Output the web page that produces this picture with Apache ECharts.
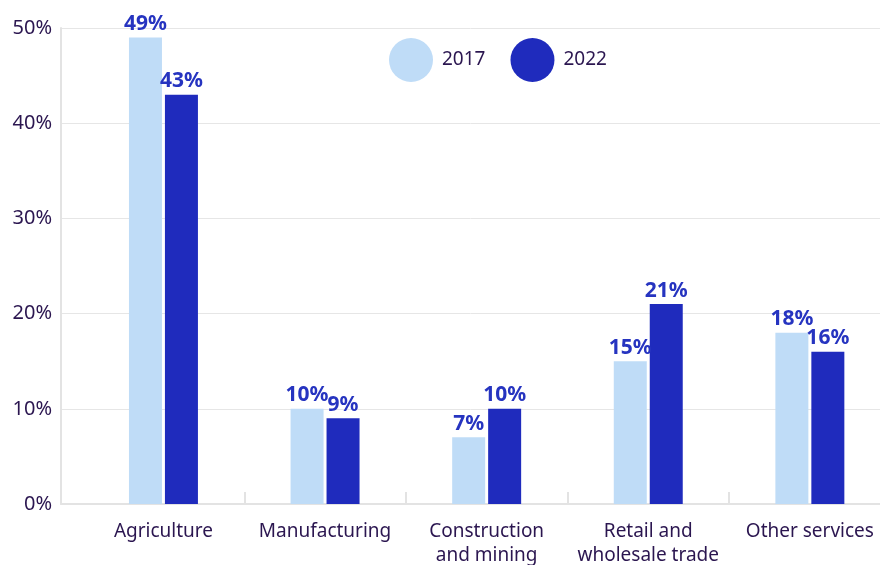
<!DOCTYPE html>
<html><head><meta charset="utf-8">
<script src="https://cdn.jsdelivr.net/npm/echarts@6/dist/echarts.min.js"></script>
<style>html,body{margin:0;padding:0;background:#fff}#c{width:880px;height:565px}</style>
</head><body><div id="c"></div>
<script>
const categories = ['Agriculture', 'Manufacturing', 'Construction\nand mining', 'Retail and\nwholesale trade', 'Other services'];
const series2017 = [49, 10, 7, 15, 18];
const series2022 = [43, 9, 10, 21, 16];
const yTicks = [0, 10, 20, 30, 40, 50];

const FONT = '"Noto Sans", sans-serif';
const TXT = '#2b1650';
const LBL = '#2634c0';
const idx = categories.map((c, i) => i);
const boundaries = idx.slice(1).map(i => i - 0.5);
const chart = echarts.init(document.getElementById('c'));
chart.setOption({
  animation: false,
  textStyle: { fontFamily: FONT },
  legend: {
    left: 389, top: 38, padding: 0, itemWidth: 44, itemHeight: 44, itemGap: 25, icon: 'circle',
    textStyle: { fontSize: 19, color: TXT, fontFamily: FONT, padding: [0, 0, 0, 4] },
    data: ['2017', '2022']
  },
  grid: { left: 61, right: 0, top: 28, bottom: 61, containLabel: false, outerBoundsMode: 'none' },
  xAxis: {
    type: 'value', min: -0.634, max: 4.434,
    axisLine: { show: true, onZero: false, lineStyle: { color: '#e3e3e3', width: 2 } },
    axisTick: { show: true, inside: true, length: 12, customValues: boundaries, lineStyle: { color: '#e3e3e3', width: 2 } },
    axisLabel: { customValues: idx, formatter: v => categories[Math.round(v)], fontSize: 19, color: TXT, fontFamily: FONT, lineHeight: 24, margin: 16 },
    splitLine: { show: false }
  },
  yAxis: {
    type: 'value', min: yTicks[0], max: yTicks[yTicks.length - 1], interval: 10,
    axisLine: { show: true, onZero: false, lineStyle: { color: '#e3e3e3', width: 2 } },
    axisTick: { show: false },
    splitLine: { lineStyle: { color: '#e6e6e6', width: 1 } },
    axisLabel: { formatter: '{value}%', fontSize: 20, color: TXT, fontFamily: FONT, margin: 9 }
  },
  series: [
    { name: '2017', type: 'bar', data: series2017.map((v, i) => [i, v]),
      barWidth: 33, barGap: '9%', itemStyle: { color: '#bfdcf7' },
      label: { show: true, position: 'top', distance: 3, formatter: p => p.value[1] + '%', fontSize: 21, fontWeight: 'bold', color: LBL, fontFamily: FONT } },
    { name: '2022', type: 'bar', data: series2022.map((v, i) => [i, v]),
      barWidth: 33, itemStyle: { color: '#1f2bbd' },
      label: { show: true, position: 'top', distance: 3, formatter: p => p.value[1] + '%', fontSize: 21, fontWeight: 'bold', color: LBL, fontFamily: FONT } }
  ]
});
</script></body></html>
